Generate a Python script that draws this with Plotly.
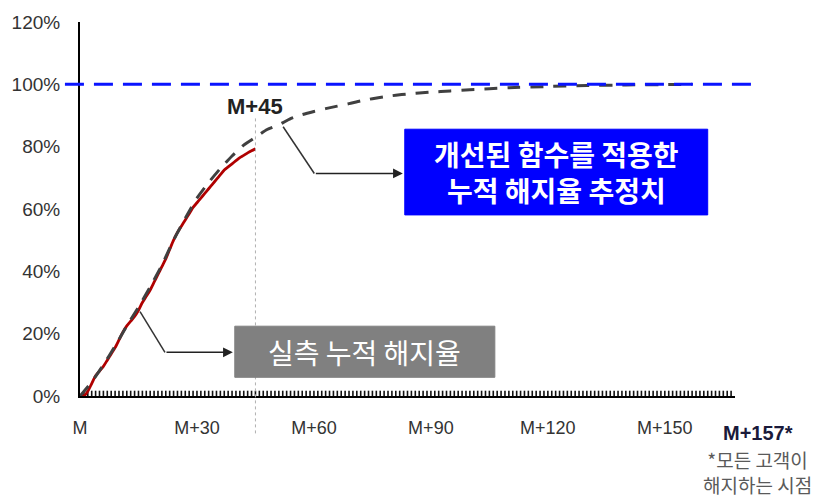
import plotly.graph_objects as go

# ---- data ----
actual_months = list(range(0, 46))
actual_rate = [0, 0, 1.5, 4, 6.5, 8, 9.5, 11.5, 13.5, 15.5, 18, 20.5, 22.5, 24, 25.5,
               27.5, 30, 32, 34, 36.5, 39, 41.5, 44, 47, 50, 52.5, 54.5, 56.5, 58.5,
               60.5, 62, 63.5, 65, 66.5, 68, 69.5, 71, 72.5, 73.5, 74.5, 75.5, 76.5,
               77.2, 78, 78.7, 79.3]

est_months = [0, 3, 6, 9, 12, 15, 18, 21, 24, 27, 30, 33, 36, 39, 42, 45, 48, 51, 54,
              57, 60, 63, 66, 69, 72, 75, 78, 81, 84, 87, 90, 95, 100, 105, 110, 120,
              130, 140, 150, 157]
est_rate = [0, 4.5, 10, 16, 22.5, 28.5, 35, 42, 50, 57, 63.5, 68.5, 73, 77, 80.5, 83,
            85.5, 87, 89, 90.3, 91.3, 92.2, 93, 93.8, 94.7, 95.4, 96, 96.5, 96.9, 97.2,
            97.5, 97.9, 98.3, 98.6, 98.9, 99.3, 99.6, 99.8, 99.9, 100]

x_tick_vals = [0, 30, 60, 90, 120, 150]
x_tick_text = ["M", "M+30", "M+60", "M+90", "M+120", "M+150"]
x_minor_ticks = list(range(1, 168))
minor_tick_height = 1.7
y_tick_vals = [0, 20, 40, 60, 80, 100, 120]
y_tick_text = ["0%", "20%", "40%", "60%", "80%", "100%", "120%"]

marker_month = 45
full_month_label = "M+157*"

KR = "Noto Sans CJK KR"
LAT = "Liberation Sans, Arial, sans-serif"

fig = go.Figure()

# dense small ticks along the x axis, as short vertical segments
tick_x, tick_y = [], []
for t in x_minor_ticks:
    tick_x += [t, t, None]
    tick_y += [0, minor_tick_height, None]
fig.add_trace(go.Scatter(x=tick_x, y=tick_y, mode="lines",
                         line=dict(color="#111111", width=1.6),
                         cliponaxis=False, hoverinfo="skip", showlegend=False))

fig.add_trace(go.Scatter(x=actual_months, y=actual_rate, mode="lines",
                         line=dict(color="#b00000", width=2.8, shape="spline",
                                   smoothing=0.6), showlegend=False))
fig.add_trace(go.Scatter(x=est_months, y=est_rate, mode="lines",
                         line=dict(color="#404040", width=3, dash="13px,10px",
                                   shape="spline", smoothing=0.6),
                         showlegend=False))

shapes = [
    # 100% reference line
    dict(type="line", xref="paper", yref="y", x0=-0.023, x1=1.034, y0=100, y1=100,
         line=dict(color="#0a14ff", width=3, dash="19px,10px"), layer="above"),
    # vertical dotted line at M+45
    dict(type="line", xref="x", yref="paper", x0=marker_month, x1=marker_month,
         y0=-0.10, y1=0.75, line=dict(color="#b0b0b0", width=1, dash="dot")),
    # blue box
    dict(type="rect", xref="x", yref="y", x0=83.3, x1=161, y0=58.1, y1=85.6,
         fillcolor="#0000ff", line=dict(color="#0000ff", width=1), layer="above"),
    # gray box
    dict(type="rect", xref="x", yref="y", x0=39.7, x1=106.4, y0=6.0, y1=22.4,
         fillcolor="#808080", line=dict(color="#808080", width=1), layer="above"),
    # leader lines
    dict(type="line", xref="x", yref="y", x0=52.1, y0=86.4, x1=60.1, y1=71.4,
         line=dict(color="#333333", width=1.5), layer="above"),
    dict(type="line", xref="x", yref="y", x0=15.4, y0=27.1, x1=21.8, y1=14.0,
         line=dict(color="#333333", width=1.5), layer="above"),
]

annotations = [
    dict(x=82.8, y=71.4, ax=60.1, ay=71.4, xref="x", yref="y", axref="x", ayref="y",
         text="", showarrow=True, arrowhead=2, arrowsize=1.3, arrowwidth=1.5,
         arrowcolor="#222222"),
    dict(x=39.2, y=14.0, ax=21.8, ay=14.0, xref="x", yref="y", axref="x", ayref="y",
         text="", showarrow=True, arrowhead=2, arrowsize=1.3, arrowwidth=1.5,
         arrowcolor="#222222"),
    dict(x=122.2, y=71.8, xref="x", yref="y", showarrow=False,
         text="<b>개선된 함수를 적용한<br>누적 해지율 추정치</b>",
         font=dict(family=KR, size=28, color="white"), align="center"),
    dict(x=73.0, y=14.2, xref="x", yref="y", showarrow=False,
         text="실측 누적 해지율",
         font=dict(family=KR, size=28, color="white"), align="center"),
    dict(x=marker_month, y=92.8, xref="x", yref="y", showarrow=False,
         text="<b>M+45</b>", font=dict(family=LAT, size=22, color="#222222")),
    dict(x=1.035, y=-0.098, xref="paper", yref="paper", showarrow=False,
         xanchor="center", yanchor="middle",
         text="<b>" + full_month_label + "</b>",
         font=dict(family=LAT, size=20, color="#1a1a3a")),
    dict(x=1.034, y=-0.203, xref="paper", yref="paper", showarrow=False,
         xanchor="center", yanchor="middle",
         text="*모든 고객이<br>해지하는 시점", align="center",
         font=dict(family=KR, size=19, color="#5a5a5a")),
]

fig.update_layout(
    width=829, height=497,
    margin=dict(l=80, r=94, t=15, b=101),
    paper_bgcolor="white", plot_bgcolor="white",
    shapes=shapes, annotations=annotations,
    xaxis=dict(range=[0, 168], showgrid=False, zeroline=False,
               showline=True, linecolor="black", linewidth=2,
               tickmode="array", tickvals=x_tick_vals, ticktext=x_tick_text,
               ticks="", ticklabelstandoff=14,
               tickfont=dict(family=LAT, size=18, color="#333333")),
    yaxis=dict(range=[0, 120], showgrid=False, zeroline=False,
               showline=True, linecolor="black", linewidth=2,
               tickmode="array", tickvals=y_tick_vals, ticktext=y_tick_text,
               ticks="", ticklabelstandoff=14,
               tickfont=dict(family=LAT, size=19, color="#333333")),
)

fig.write_html("out.html")
